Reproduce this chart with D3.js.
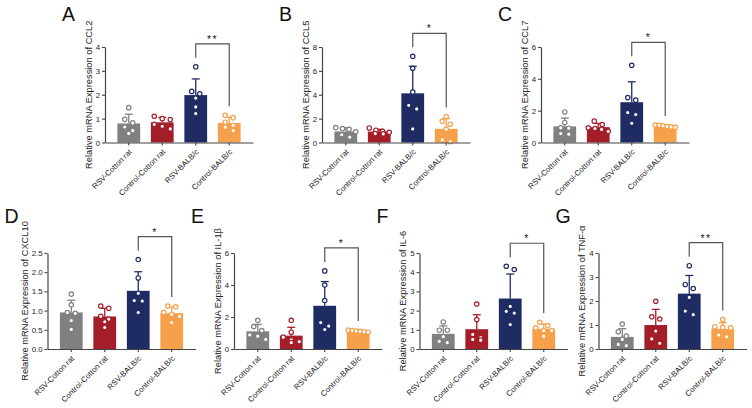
<!DOCTYPE html>
<html>
<head>
<meta charset="utf-8">
<script src="https://cdn.jsdelivr.net/npm/d3@7"></script>
<style>
  body { margin: 0; background: #fff; }
  text { font-family: Arial, "Liberation Sans", sans-serif; }
</style>
</head>
<body>
<div id="chart"></div>
<script>
// groups on the x axis of every panel
const groups = ["RSV-Cotton rat", "Control-Cotton rat", "RSV-BALB/c", "Control-BALB/c"];
const genes = ["CCL2", "CCL5", "CCL7", "CXCL10", "IL-1β", "IL-6", "TNF-α"];
const letters = ["A", "B", "C", "D", "E", "F", "G"];
const yMaxes = [4, 8, 6, 2.5, 6, 5, 4];
const yStepsize = [1, 2, 2, 0.5, 2, 1, 1];
const stars = ["**", "*", "*", "*", "*", "*", "**"];

// individual points, one list per group
const ccl2 = [
  [1.46, 0.97, 0.82, 0.65, 0.50, 0.38],
  [1.10, 1.00, 0.96, 0.76, 0.68, 0.57],
  [3.17, 2.14, 2.04, 1.86, 1.49, 1.21],
  [1.14, 1.04, 0.85, 0.72, 0.64, 0.50]
];
const ccl5 = [
  [1.25, 1.17, 1.10, 0.90, 0.65, 0.45],
  [1.22, 1.03, 0.94, 0.85, 0.75, 0.72],
  [7.22, 6.22, 4.22, 3.11, 2.81, 1.14],
  [2.17, 1.78, 1.53, 1.11, 0.22, 0.06]
];
const ccl7 = [
  [1.92, 1.26, 0.92, 0.90, 0.56, 0.52],
  [1.34, 1.13, 0.92, 0.88, 0.82, 0.70],
  [4.85, 2.82, 2.66, 1.88, 1.76, 1.21],
  [1.10, 1.08, 1.05, 1.00, 0.98, 0.95]
];
const cxcl10 = [
  [1.43, 1.15, 0.95, 0.93, 0.74, 0.51],
  [1.12, 1.06, 0.85, 0.78, 0.71, 0.56],
  [2.33, 1.85, 1.45, 1.26, 1.25, 0.95],
  [1.12, 1.10, 0.95, 0.90, 0.85, 0.69]
];
const il1b = [
  [1.79, 1.40, 1.15, 0.88, 0.80, 0.60],
  [1.79, 1.05, 0.74, 0.57, 0.46, 0.40],
  [4.88, 4.00, 3.03, 1.65, 1.43, 1.22],
  [1.18, 1.15, 1.12, 1.10, 1.08, 1.05]
];
const il6 = [
  [1.41, 0.98, 0.98, 0.64, 0.40, 0.33],
  [2.34, 1.53, 0.76, 0.60, 0.50, 0.46],
  [4.31, 4.14, 2.22, 1.96, 1.87, 1.27],
  [1.39, 1.22, 1.10, 0.96, 0.96, 0.67]
];
const tnfa = [
  [1.04, 0.72, 0.54, 0.40, 0.19, 0.14],
  [1.99, 1.34, 1.25, 0.75, 0.42, 0.24],
  [3.47, 2.69, 2.52, 2.15, 1.58, 1.43],
  [1.23, 0.93, 0.90, 0.88, 0.58, 0.51]
];
const panelValues = [ccl2, ccl5, ccl7, cxcl10, il1b, il6, tnfa];

const colors = ["#808080", "#A41E2A", "#1F2C64", "#F6A04B"];

// layout of the 7 panels (x of y axis, row)
const layout = [
  {x: 105, row: 0}, {x: 322, row: 0}, {x: 541, row: 0},
  {x: 47.5, row: 1}, {x: 234, row: 1}, {x: 419.5, row: 1}, {x: 598.5, row: 1}
];
const rows = [{y0: 142.5, y1: 47, letterY: 21}, {y0: 349, y1: 253, letterY: 223}];
const axisLen = 148;

const svg = d3.select("#chart").append("svg")
  .attr("width", 752)
  .attr("height", 408);

function drawPanel(i) {
  const L = layout[i];
  const R = rows[L.row];
  const data = panelValues[i];
  const g = svg.append("g").attr("class", "panel");

  const x = d3.scaleBand()
    .domain(groups)
    .range([L.x, L.x + axisLen])
    .paddingInner(0.32)
    .paddingOuter(0.37);

  const y = d3.scaleLinear()
    .domain([0, yMaxes[i]])
    .range([R.y0, R.y1]);

  const stats = data.map(v => ({mean: d3.mean(v), sd: d3.deviation(v)}));

  // bars
  g.selectAll("rect.bar").data(stats).join("rect")
    .attr("class", "bar")
    .attr("x", (d, k) => x(groups[k]))
    .attr("y", d => y(d.mean))
    .attr("width", x.bandwidth())
    .attr("height", d => R.y0 - y(d.mean))
    .attr("fill", (d, k) => colors[k]);

  // error bars (mean + SD)
  stats.forEach((d, k) => {
    const cx = x(groups[k]) + x.bandwidth() / 2;
    g.append("line")
      .attr("x1", cx).attr("x2", cx)
      .attr("y1", y(d.mean)).attr("y2", y(d.mean + d.sd))
      .attr("stroke", colors[k]).attr("stroke-width", 1.3);
    g.append("line")
      .attr("x1", cx - 4).attr("x2", cx + 4)
      .attr("y1", y(d.mean + d.sd)).attr("y2", y(d.mean + d.sd))
      .attr("stroke", colors[k]).attr("stroke-width", 1.3);
  });

  // scatter points, spread sideways when they would overlap
  data.forEach((vals, k) => {
    const cx = x(groups[k]) + x.bandwidth() / 2;
    const sorted = vals.slice().sort((a, b) => b - a);
    const rowsOfDots = [];
    sorted.forEach(v => {
      const last = rowsOfDots[rowsOfDots.length - 1];
      if (last && y(v) - y(last[0]) < 4.6) last.push(v);
      else rowsOfDots.push([v]);
    });
    const pts = [];
    rowsOfDots.forEach(r => {
      const step = r.length > 1 ? Math.min(8, 20 / (r.length - 1)) : 0;
      r.forEach((v, j) => pts.push({v: v, dx: (j - (r.length - 1) / 2) * step}));
    });
    g.selectAll(null).data(pts).join("circle")
      .attr("cx", d => cx + d.dx)
      .attr("cy", d => y(d.v))
      .attr("r", 2.2)
      .attr("fill", "#fff")
      .attr("stroke", colors[k])
      .attr("stroke-width", 1.2);
  });

  // axes
  const xAxis = g.append("g")
    .attr("transform", `translate(0,${R.y0})`)
    .call(d3.axisBottom(x).tickSize(3).tickSizeOuter(0));
  xAxis.selectAll("text")
    .attr("text-anchor", "end")
    .attr("font-size", "7.8px")
    .attr("fill", "#222")
    .attr("x", 0)
    .attr("y", 0)
    .attr("dy", 0)
    .attr("transform", "translate(3.5,10) rotate(-45)");

  const yAxis = g.append("g")
    .attr("transform", `translate(${L.x},0)`)
    .call(d3.axisLeft(y)
      .tickValues(d3.range(0, yMaxes[i] + 1e-9, yStepsize[i]))
      .tickFormat(yStepsize[i] < 1 ? d3.format(".1f") : d3.format("d"))
      .tickSize(3).tickPadding(2).tickSizeOuter(0));
  yAxis.selectAll("text").attr("font-size", "7.8px").attr("fill", "#222");

  [xAxis, yAxis].forEach(a => {
    a.select(".domain").attr("stroke", "#444").attr("stroke-width", 1.2);
    a.selectAll(".tick line").attr("stroke", "#444").attr("stroke-width", 1.1);
  });

  // y axis title
  let tickW = 0;
  yAxis.selectAll("text").each(function() { tickW = Math.max(tickW, this.getComputedTextLength()); });
  g.append("text")
    .attr("transform", `translate(${L.x - tickW - 9},${(R.y0 + R.y1) / 2}) rotate(-90)`)
    .attr("text-anchor", "middle")
    .attr("font-size", "9.3px")
    .attr("fill", "#222")
    .text("Relative mRNA Expression of " + genes[i]);

  // panel letter
  g.append("text")
    .attr("x", L.x - 43)
    .attr("y", R.letterY)
    .attr("font-size", "19.5px")
    .attr("fill", "#111")
    .text(letters[i]);

  // significance bracket between the two BALB/c groups
  const topOf = k => Math.min(y(d3.max(data[k])), y(stats[k].mean + stats[k].sd));
  const lx = x(groups[2]) + x.bandwidth() / 2;
  const rx = x(groups[3]) + x.bandwidth() / 2;
  const lTop = topOf(2), rTop = topOf(3);
  const hY = Math.min(lTop, rTop) - 23;
  g.append("path")
    .attr("d", `M${lx},${lTop - 9}V${hY}H${rx}V${rTop - 9}`)
    .attr("fill", "none")
    .attr("stroke", "#555")
    .attr("stroke-width", 1.2);
  g.append("text")
    .attr("x", (lx + rx) / 2)
    .attr("y", hY - 1)
    .attr("text-anchor", "middle")
    .attr("font-size", "10.5px")
    .attr("letter-spacing", "1.5px")
    .attr("fill", "#222")
    .text(stars[i]);
}

genes.forEach((gene, i) => drawPanel(i));
</script>
</body>
</html>
